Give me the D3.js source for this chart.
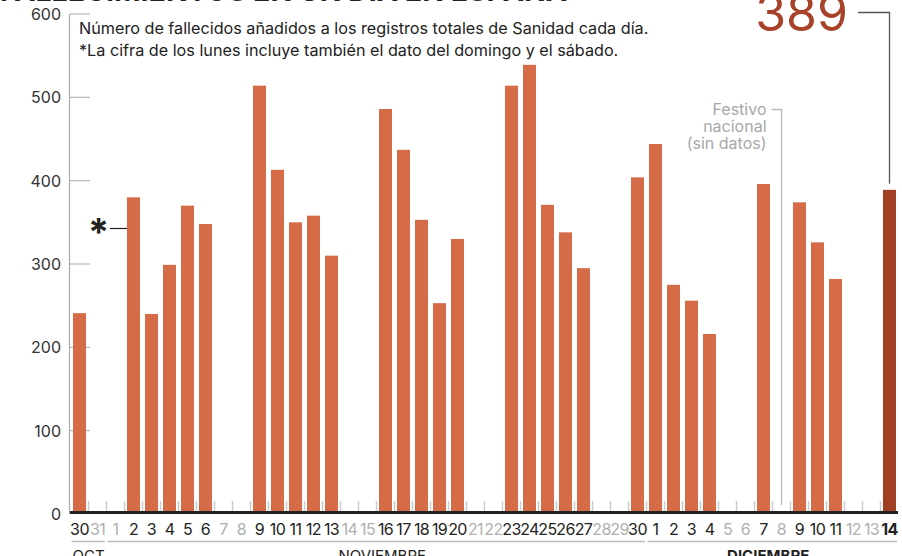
<!DOCTYPE html>
<html><head><meta charset="utf-8">
<script src="https://cdn.jsdelivr.net/npm/d3@7"></script>
<style>body{margin:0;background:#fff} svg{display:block;font-family:Inter,sans-serif}</style>
</head><body><svg id="c" width="902" height="556"></svg>
<script>
// ---- data ----
const dayLabels = ["30","31",
  "1","2","3","4","5","6","7","8","9","10","11","12","13","14","15","16","17","18","19","20",
  "21","22","23","24","25","26","27","28","29","30",
  "1","2","3","4","5","6","7","8","9","10","11","12","13","14"];
const deaths = [241,null,
  null,380,240,299,370,348,null,null,514,413,350,358,310,null,null,486,437,353,253,330,
  null,null,514,539,371,338,295,null,null,404,
  444,275,256,216,null,null,396,null,374,326,282,null,null,389];
// 0 = laborable (dark label), 1 = fin de semana / festivo (grey label)
const offDay = [0,1,
  1,0,0,0,0,0,1,1,0,0,0,0,0,1,1,0,0,0,0,0,
  1,1,0,0,0,0,0,1,1,0,
  0,0,0,0,1,1,0,1,0,0,0,1,1,0];
const months = ["OCT","NOVIEMBRE","DICIEMBRE"];
const monthStart = [0,2,32];
const monthEnd = [1,31,45];
const yTicks = [0,100,200,300,400,500,600];
const titleText = "FALLECIMIENTOS EN UN DÍA EN ESPAÑA";
const note1 = "Número de fallecidos añadidos a los registros totales de Sanidad cada día.";
const note2 = "*La cifra de los lunes incluye también el dato del domingo y el sábado.";
const holidayText = ["Festivo","nacional","(sin datos)"];
const holidayIndex = 39;
const lastValue = 389;

const svg = d3.select("#c");
const idx = d3.range(dayLabels.length);
const x = d3.scaleBand().domain(idx).range([70.5, 898.5]).paddingInner(5/18).paddingOuter(2.5/18);
const y = d3.scaleLinear().domain([0,600]).range([514,14]);
const orange = "#d66c47", dark = "#a03f24";

// title (clipped at top)
svg.append("text").attr("x",0).attr("y",1).attr("font-size",28.5).attr("font-weight",700)
  .attr("fill","#222").text(titleText);

// y axis
svg.append("line").attr("x1",69.5).attr("x2",69.5).attr("y1",y(600)).attr("y2",y(0))
  .attr("stroke","#aaa").attr("stroke-width",1.2);
const yg = svg.append("g");
yg.selectAll("line.g").data(yTicks.filter(d=>d>0)).join("line")
  .attr("x1",70).attr("x2",90).attr("y1",d=>y(d)).attr("y2",d=>y(d))
  .attr("stroke","#bbb").attr("stroke-width",1.3);
yg.selectAll("text").data(yTicks).join("text")
  .attr("x",61).attr("y",d=>y(d)+6).attr("text-anchor","end")
  .attr("font-size",16).attr("fill","#333").text(d=>d);

// notes
svg.append("text").attr("x",79).attr("y",34).attr("font-size",16.2).attr("fill","#222").text(note1);
svg.append("text").attr("x",79).attr("y",56).attr("font-size",16.2).attr("fill","#222").text(note2);

// day boundary ticks
svg.append("g").selectAll("line").data(idx.slice(1)).join("line")
  .attr("x1",d=>x(d)-2.5).attr("x2",d=>x(d)-2.5).attr("y1",501).attr("y2",512)
  .attr("stroke","#ccc").attr("stroke-width",1.5);

// holiday annotation
const hx = x(holidayIndex)+x.bandwidth()/2;
svg.append("path").attr("d",`M${hx-10},109.5H${hx}V505`).attr("fill","none")
  .attr("stroke","#bbb").attr("stroke-width",1.3);
svg.append("g").selectAll("text").data(holidayText).join("text")
  .attr("x",hx-15).attr("y",(d,i)=>115+i*17).attr("text-anchor","end")
  .attr("font-size",16).attr("fill","#a8a8a8").text(d=>d);

// bars
svg.append("g").selectAll("rect").data(idx.filter(i=>deaths[i]!=null)).join("rect")
  .attr("x",i=>x(i)).attr("width",x.bandwidth())
  .attr("y",i=>y(deaths[i])).attr("height",i=>y(0)-y(deaths[i]))
  .attr("fill",i=>i===idx.length-1?dark:orange);

// baseline
svg.append("line").attr("x1",70).attr("x2",898).attr("y1",512.5).attr("y2",512.5)
  .attr("stroke","#222").attr("stroke-width",3);

// asterisk
svg.append("text").attr("x",98.5).attr("y",246).attr("text-anchor","middle")
  .attr("font-size",38).attr("font-weight",700).attr("fill","#222").text("*");
svg.append("line").attr("x1",110).attr("x2",127).attr("y1",228.5).attr("y2",228.5)
  .attr("stroke","#222").attr("stroke-width",1.2);

// last value callout
const lx = x(idx.length-1)+x.bandwidth()/2;
svg.append("text").attr("x",848).attr("y",31).attr("text-anchor","end")
  .attr("font-size",50).attr("fill","#a8432a").text(lastValue);
svg.append("path").attr("d",`M858,12.5H${lx}V${y(lastValue)-6}`).attr("fill","none")
  .attr("stroke","#555").attr("stroke-width",1.3);

// x labels
svg.append("g").selectAll("text").data(idx).join("text")
  .attr("x",i=>x(i)+x.bandwidth()/2).attr("y",535).attr("text-anchor","middle")
  .attr("font-size",16).attr("letter-spacing",-0.6)
  .attr("font-weight",i=>i===idx.length-1?700:400)
  .attr("fill",i=>offDay[i]?"#b0b0b0":"#222").text(i=>dayLabels[i]);

// month lines & labels
const mg = svg.append("g");
months.forEach((m,k)=>{
  const x0 = x(monthStart[k]) - 1.5, x1 = x(monthEnd[k]) + x.bandwidth() + 1;
  mg.append("line").attr("x1",x0).attr("x2",x1).attr("y1",541.5).attr("y2",541.5)
    .attr("stroke","#bbb").attr("stroke-width",1.3);
  const t = mg.append("text").attr("y",561).attr("font-size",15).attr("fill","#222").text(m);
  if(k===0) t.attr("x",x0+1);
  else t.attr("x",(x0+x1)/2 + (k===1?6:-4)).attr("text-anchor","middle");
  if(k===2) t.attr("font-weight",700);
});
</script></body></html>
